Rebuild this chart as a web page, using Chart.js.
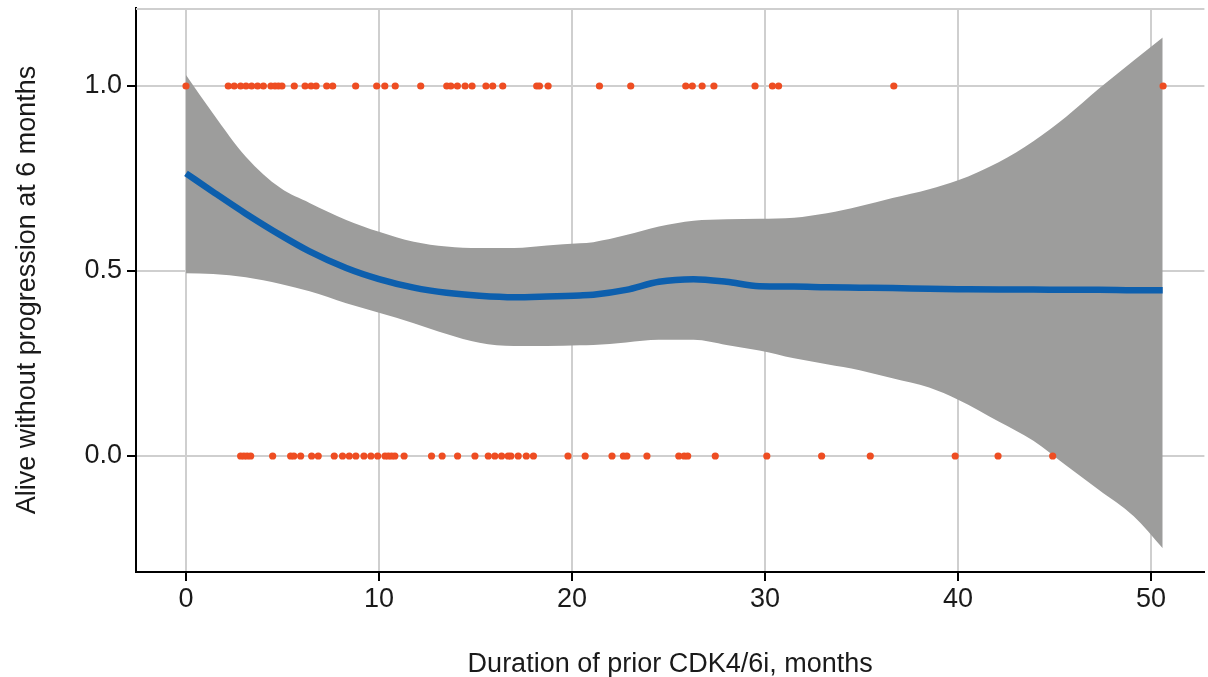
<!DOCTYPE html>
<html><head><meta charset="utf-8">
<script src="https://cdn.jsdelivr.net/npm/chart.js@4/dist/chart.umd.min.js"></script>
<style>html,body{margin:0;padding:0;background:#fff;overflow:hidden}#wrap{width:1208px;height:677px;position:relative}</style>
</head><body><div id="wrap"><canvas id="c" width="1208" height="677"></canvas></div>
<script>
// ---- data ----
const xTicks = [0, 10, 20, 30, 40, 50];
const yTicks = [0, 0.5, 1.0];
const smoothX = [0, 1.4, 3.1, 4.9, 6.4, 8.3, 10.0, 11.8, 13.5, 15.2, 17.0, 18.7, 20.4, 21.1, 22.8, 24.5, 26.3, 28.0, 29.7, 31.5, 33.2, 34.9, 36.6, 38.5, 40.0, 42.1, 43.9, 45.6, 47.3, 49.1, 50.6];
const upperCI = [1.03, 0.926, 0.809, 0.724, 0.684, 0.638, 0.606, 0.579, 0.566, 0.562, 0.562, 0.569, 0.575, 0.578, 0.597, 0.62, 0.636, 0.64, 0.641, 0.644, 0.656, 0.675, 0.697, 0.721, 0.745, 0.794, 0.851, 0.917, 0.993, 1.069, 1.131];
const lowerCI = [0.494, 0.492, 0.483, 0.465, 0.445, 0.413, 0.387, 0.359, 0.33, 0.306, 0.297, 0.297, 0.299, 0.3, 0.307, 0.314, 0.314, 0.30, 0.285, 0.264, 0.248, 0.232, 0.21, 0.185, 0.152, 0.093, 0.041, -0.026, -0.092, -0.163, -0.249];
const fitted = [0.764, 0.714, 0.655, 0.597, 0.553, 0.508, 0.478, 0.455, 0.441, 0.433, 0.429, 0.431, 0.434, 0.436, 0.449, 0.471, 0.478, 0.471, 0.459, 0.458, 0.456, 0.455, 0.454, 0.452, 0.451, 0.450, 0.450, 0.449, 0.449, 0.448, 0.448];
const aliveNoProgX = [0, 2.19, 2.50, 2.83, 3.11, 3.40, 3.71, 4.01, 4.40, 4.61, 4.79, 4.97, 5.61, 6.17, 6.48, 6.74, 7.29, 7.60, 8.79, 9.88, 10.30, 10.84, 12.16, 13.51, 13.72, 14.06, 14.46, 14.82, 15.54, 15.89, 16.41, 18.17, 18.31, 18.76, 21.42, 23.04, 25.89, 26.23, 26.74, 27.35, 29.48, 30.38, 30.70, 36.67, 50.62];
const progressedX = [2.83, 3.00, 3.17, 3.35, 4.49, 5.42, 5.59, 5.94, 6.51, 6.85, 7.68, 8.11, 8.46, 8.80, 9.22, 9.58, 9.93, 10.31, 10.48, 10.65, 10.82, 11.30, 12.72, 13.27, 14.07, 14.97, 15.66, 16.00, 16.35, 16.69, 16.83, 17.21, 17.63, 18.00, 19.79, 20.68, 22.07, 22.66, 22.84, 23.88, 25.53, 25.81, 25.99, 27.42, 30.09, 32.93, 35.45, 39.85, 42.07, 44.90];

const FONT = "'Liberation Sans', Arial, sans-serif";
const pts = (xs, y) => xs.map(x => ({x, y}));
const curve = ys => smoothX.map((x, i) => ({x, y: ys[i]}));
const noPad = s => { s.paddingTop = 0; s.paddingBottom = 0; s.paddingLeft = 0; s.paddingRight = 0; };

const topLine = {
  id: 'topLine',
  beforeDatasetsDraw(chart) {
    const {ctx, chartArea: a} = chart;
    ctx.save();
    ctx.strokeStyle = '#cfcfcf'; ctx.lineWidth = 2;
    ctx.beginPath(); ctx.moveTo(a.left, a.top + 1); ctx.lineTo(a.right, a.top + 1); ctx.stroke();
    ctx.restore();
  }
};

new Chart(document.getElementById('c'), {
  type: 'line',
  data: {
    datasets: [
      {data: pts(aliveNoProgX, 1), showLine: false, pointRadius: 3.6, pointBackgroundColor: '#ee4d22', pointBorderWidth: 0, pointHoverRadius: 3.6},
      {data: pts(progressedX, 0), showLine: false, pointRadius: 3.6, pointBackgroundColor: '#ee4d22', pointBorderWidth: 0, pointHoverRadius: 3.6},
      {data: curve(fitted), borderColor: '#0d5fad', borderWidth: 6.5, pointRadius: 0, cubicInterpolationMode: 'monotone', fill: false, borderCapStyle: 'butt'},
      {data: curve(upperCI), borderWidth: 0, borderColor: 'rgba(0,0,0,0)', pointRadius: 0, cubicInterpolationMode: 'monotone', fill: false},
      {data: curve(lowerCI), borderWidth: 0, borderColor: 'rgba(0,0,0,0)', pointRadius: 0, cubicInterpolationMode: 'monotone', fill: '-1', backgroundColor: '#9d9d9c'}
    ]
  },
  options: {
    responsive: false, animation: false, devicePixelRatio: 1,
    layout: {padding: {top: 8, left: 0, right: 0, bottom: 0}},
    plugins: {legend: {display: false}, tooltip: {enabled: false}},
    scales: {
      x: {
        type: 'linear', min: -2.59, max: 52.76,
        afterBuildTicks: s => { s.ticks = xTicks.map(v => ({value: v})); },
        afterFit: s => { s.height = 105; noPad(s); },
        ticks: {font: {family: FONT, size: 27}, color: '#1a1a1a', padding: 2, maxRotation: 0, autoSkip: false, callback: v => String(v)},
        grid: {color: '#cfcfcf', lineWidth: 2, tickColor: '#000', tickLength: 9, tickWidth: 2},
        border: {color: '#000', width: 2},
        title: {display: true, text: 'Duration of prior CDK4/6i, months', color: '#1a1a1a', font: {family: FONT, size: 27, lineHeight: '25px'}, padding: {top: 0, bottom: 0}}
      },
      y: {
        type: 'linear', min: -0.3135, max: 1.2108,
        afterBuildTicks: s => { s.ticks = yTicks.map(v => ({value: v})); },
        afterFit: s => { s.width = 136; noPad(s); },
        ticks: {font: {family: FONT, size: 27}, color: '#1a1a1a', padding: 5, autoSkip: false, callback: v => v.toFixed(1)},
        grid: {color: '#cfcfcf', lineWidth: 2, tickColor: '#000', tickLength: 9, tickWidth: 2},
        border: {color: '#000', width: 2},
        title: {display: true, text: 'Alive without progression at 6 months', color: '#1a1a1a', font: {family: FONT, size: 27, lineHeight: '27px'}, padding: {top: 14, bottom: 0}}
      }
    }
  },
  plugins: [topLine]
});
</script></body></html>
